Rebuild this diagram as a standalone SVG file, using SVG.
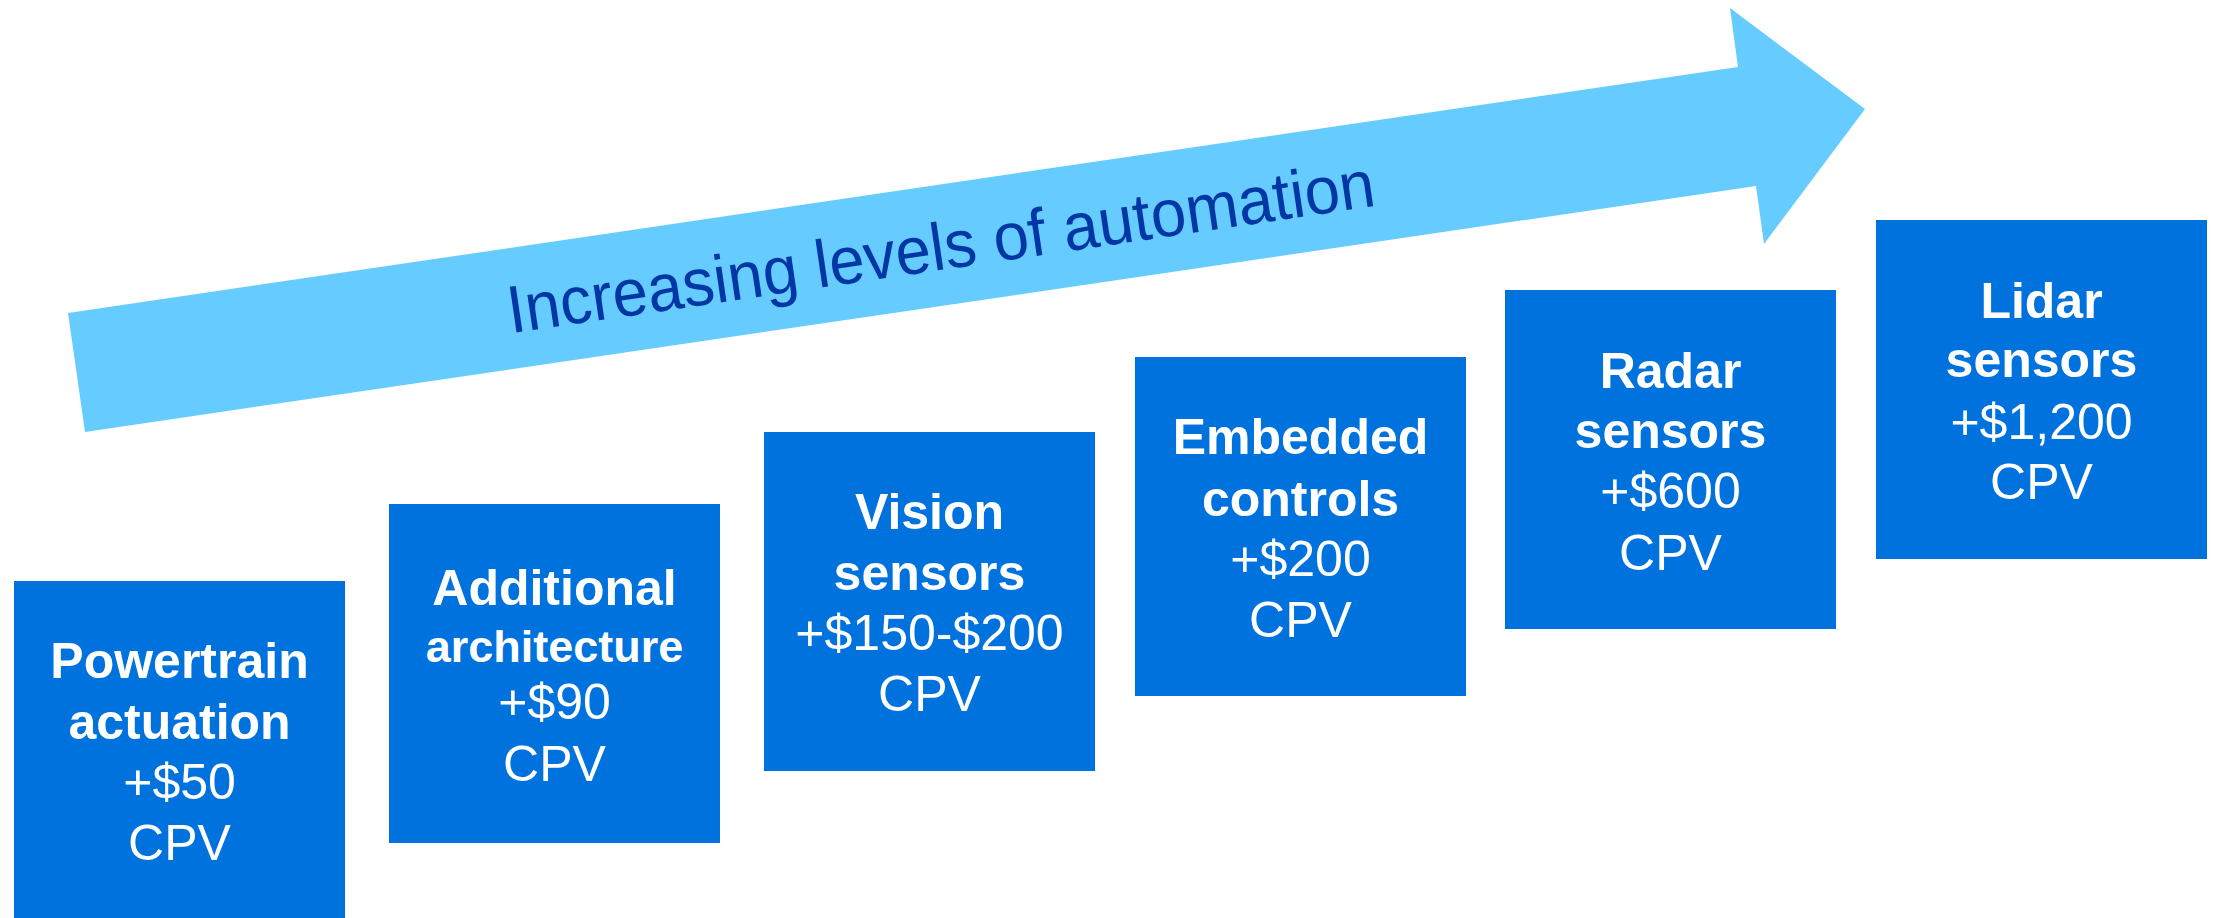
<svg xmlns="http://www.w3.org/2000/svg" width="2214" height="918" viewBox="0 0 2214 918">
<style>
.box{fill:#0072DE}
.t{font-family:"Liberation Sans",Arial,sans-serif;font-size:50px;fill:#FFFFFF;text-anchor:middle}
.b{font-weight:bold}
.arrow{fill:#66CCFF}
.at{font-family:"Liberation Sans",Arial,sans-serif;font-size:67px;fill:#0037A4;text-anchor:middle}
</style>
<rect width="2214" height="918" fill="#FFFFFF"/>
<g id="arrow">
<polygon class="arrow" points="68,313 1738,67 1730,8 1865,109 1764,244 1756,186 85,432"/>
<text class="at" transform="translate(944,269.5) rotate(-8.38)" textLength="876" lengthAdjust="spacingAndGlyphs">Increasing levels of automation</text>
</g>
<g id="node1">
<rect class="box" x="14" y="581" width="331" height="339"/>
<text class="t b" x="179.5" y="678">Powertrain</text>
<text class="t b" x="179.5" y="739">actuation</text>
<text class="t" x="179.5" y="799">+$50</text>
<text class="t" x="179.5" y="860">CPV</text>
</g>
<g id="node2">
<rect class="box" x="389" y="504" width="331" height="339"/>
<text class="t b" x="554.5" y="605">Additional</text>
<text class="t b" x="554.5" y="662" style="font-size:45px">architecture</text>
<text class="t" x="554.5" y="719">+$90</text>
<text class="t" x="554.5" y="781">CPV</text>
</g>
<g id="node3">
<rect class="box" x="764" y="432" width="331" height="339"/>
<text class="t b" x="929.5" y="529">Vision</text>
<text class="t b" x="929.5" y="590">sensors</text>
<text class="t" x="929.5" y="650">+$150-$200</text>
<text class="t" x="929.5" y="711">CPV</text>
</g>
<g id="node4">
<rect class="box" x="1135" y="357" width="331" height="339"/>
<text class="t b" x="1300.5" y="454">Embedded</text>
<text class="t b" x="1300.5" y="516">controls</text>
<text class="t" x="1300.5" y="576">+$200</text>
<text class="t" x="1300.5" y="637">CPV</text>
</g>
<g id="node5">
<rect class="box" x="1505" y="290" width="331" height="339"/>
<text class="t b" x="1670.5" y="388">Radar</text>
<text class="t b" x="1670.5" y="448">sensors</text>
<text class="t" x="1670.5" y="508">+$600</text>
<text class="t" x="1670.5" y="570">CPV</text>
</g>
<g id="node6">
<rect class="box" x="1876" y="220" width="331" height="339"/>
<text class="t b" x="2041.5" y="318">Lidar</text>
<text class="t b" x="2041.5" y="377">sensors</text>
<text class="t" x="2041.5" y="439">+$1,200</text>
<text class="t" x="2041.5" y="499">CPV</text>
</g>
<g id="connectors"></g>
</svg>
